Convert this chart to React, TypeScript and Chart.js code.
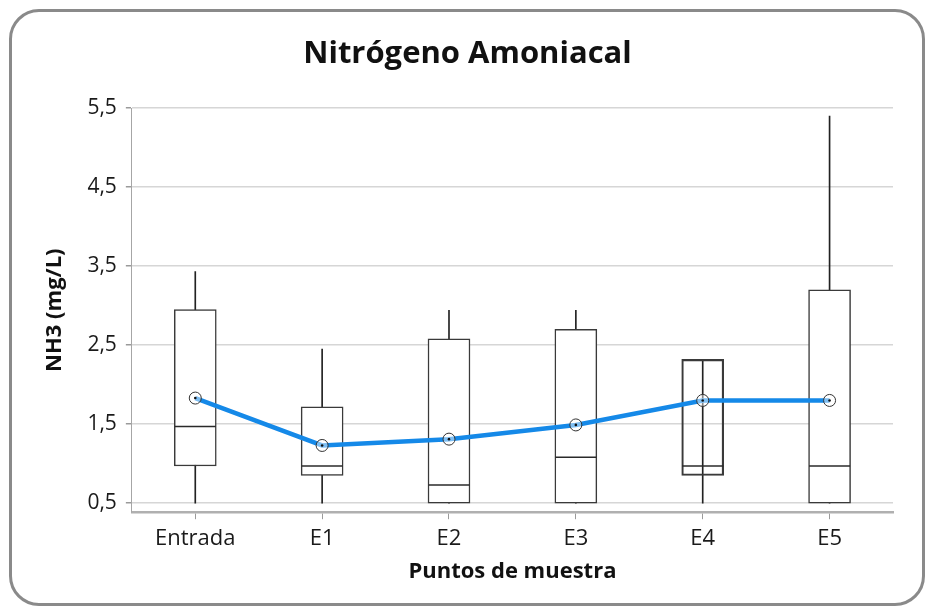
import React, { useEffect, useRef } from 'react';
import { Chart, registerables } from 'chart.js';

Chart.register(...registerables);

const CATEGORIES = ['Entrada', 'E1', 'E2', 'E3', 'E4', 'E5'];
const MINS = [0.5, 0.5, 0.5, 0.5, 0.5, 0.5];
const Q1S = [0.97, 0.85, 0.5, 0.5, 0.85, 0.5];
const MEDIANS = [1.47, 0.97, 0.73, 1.08, 0.97, 0.97];
const Q3S = [2.95, 1.72, 2.58, 2.7, 2.32, 3.2];
const MAXS = [3.43, 2.45, 2.94, 2.94, 2.32, 5.4];
const MEANS = [1.83, 1.23, 1.31, 1.49, 1.8, 1.8];
const Y_TICKS = [0.5, 1.5, 2.5, 3.5, 4.5, 5.5];

const FONT = "'Open Sans', 'DejaVu Sans', sans-serif";

export default function App() {
  const ref = useRef<HTMLCanvasElement>(null);

  useEffect(() => {
    if (!ref.current) return;
    Chart.defaults.font.family = FONT;
    Chart.defaults.color = '#1a1a1a';
    const chart = new Chart(ref.current, {
      type: 'bar',
      data: {
        labels: CATEGORIES,
        datasets: [
          {
            type: 'line',
            data: MEANS,
            showLine: false,
            pointRadius: 1.3,
            pointBorderWidth: 0,
            pointBackgroundColor: '#111',
            order: 1,
          } as any,
          {
            type: 'line',
            data: MEANS,
            borderColor: '#1589e8',
            borderWidth: 4.5,
            tension: 0,
            pointRadius: 6,
            pointBorderWidth: 1,
            pointBorderColor: '#333',
            pointBackgroundColor: 'rgba(255,255,255,0.45)',
            order: 2,
          } as any,
          {
            type: 'line',
            data: MEDIANS,
            showLine: false,
            pointStyle: 'line',
            pointRadius: 20.5,
            pointBorderWidth: 1.5,
            pointBorderColor: '#2a2a2a',
            order: 3,
          } as any,
          {
            type: 'bar',
            data: CATEGORIES.map((_, i) => [Q1S[i], Q3S[i]]),
            backgroundColor: (c: any) =>
              CATEGORIES[c.dataIndex] === 'E4' ? 'rgba(255,255,255,0)' : '#ffffff',
            borderColor: '#3a3a3a',
            borderWidth: 1.5,
            borderSkipped: false,
            barThickness: 42,
            grouped: false,
            order: 4,
          } as any,
          {
            type: 'bar',
            data: CATEGORIES.map((_, i) => [MINS[i], MAXS[i]]),
            backgroundColor: '#222',
            borderWidth: 0,
            barThickness: 1,
            grouped: false,
            order: 5,
          } as any,
        ],
      },
      options: {
        animation: false,
        responsive: false,
        devicePixelRatio: 1,
        events: [],
        layout: { padding: { left: 42, right: 38, top: 18, bottom: 20 } },
        plugins: {
          legend: { display: false },
          tooltip: { enabled: false },
          title: {
            display: true,
            text: 'Nitrógeno Amoniacal',
            color: '#111',
            font: { family: FONT, size: 31, weight: 'bold' },
            padding: { top: 18, bottom: 35 },
          },
        },
        scales: {
          x: {
            type: 'category',
            offset: true,
            grid: {
              display: true,
              drawOnChartArea: false,
              drawTicks: true,
              tickLength: 7,
              tickColor: '#9a9a9a',
              offset: false,
            },
            border: { display: true, color: '#b0b0b0', width: 2.5 },
            ticks: { font: { family: FONT, size: 22 }, color: '#1a1a1a', padding: 6 },
            title: {
              display: true,
              text: 'Puntos de muestra',
              color: '#111',
              font: { family: FONT, size: 22, weight: 'bold' },
              padding: { top: 1, bottom: 3 },
            },
          },
          y: {
            type: 'linear',
            min: 0.385,
            max: 5.5,
            afterBuildTicks: (scale: any) => {
              scale.ticks = Y_TICKS.map((v) => ({ value: v }));
            },
            grid: {
              color: '#d6d6d6',
              lineWidth: 1.5,
              tickLength: 6,
              tickColor: '#9a9a9a',
            },
            border: { display: true, color: '#a6a6a6', width: 1 },
            ticks: {
              font: { family: FONT, size: 21 },
              color: '#1a1a1a',
              padding: 9,
              callback: (v: any) => Number(v).toFixed(1).replace('.', ','),
            },
            title: {
              display: true,
              text: 'NH3 (mg/L)',
              color: '#111',
              font: { family: FONT, size: 22, weight: 'bold' },
              padding: { top: 0, bottom: 10 },
            },
          },
        },
      },
    });
    return () => chart.destroy();
  }, []);

  return (
    <div style={{ position: 'absolute', left: 0, top: 0, width: 931, height: 608, background: '#fff' }}>
      <div
        style={{
          position: 'absolute',
          left: 9,
          top: 9,
          width: 916,
          height: 597,
          boxSizing: 'border-box',
          border: '3px solid #8a8a8a',
          borderRadius: 30,
        }}
      />
      <canvas
        ref={ref}
        width={931}
        height={608}
        style={{ position: 'absolute', left: 0, top: 0, width: 931, height: 608 }}
      />
    </div>
  );
}
